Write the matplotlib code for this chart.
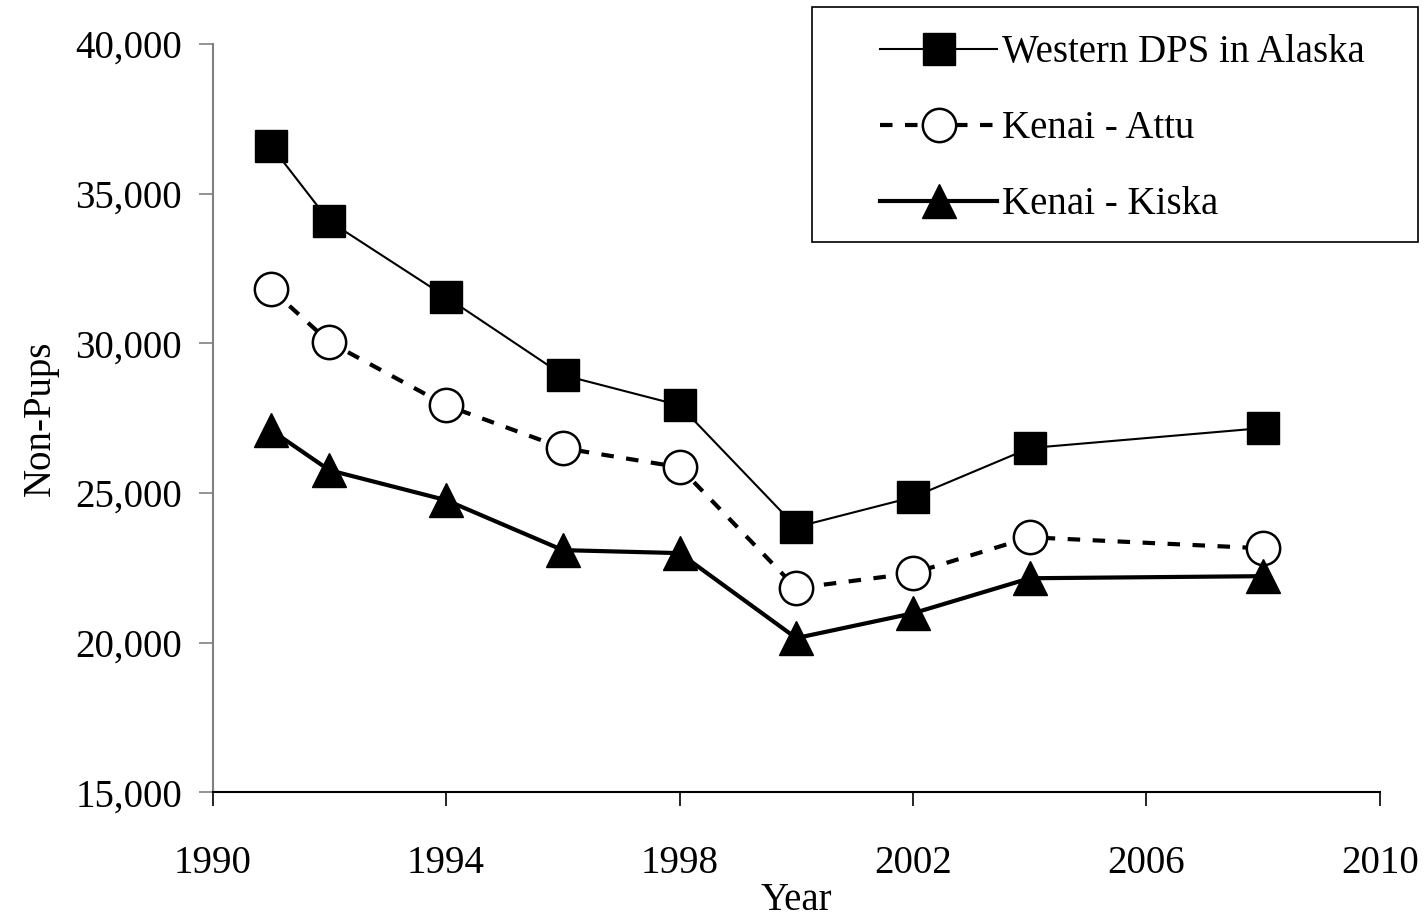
import matplotlib.pyplot as plt
from matplotlib.patches import Rectangle
from matplotlib.ticker import FuncFormatter

years = [1991, 1992, 1994, 1996, 1998, 2000, 2002, 2004, 2008]
western_dps = [36600, 34080, 31550, 28940, 27930, 23860, 24860, 26500, 27170]
kenai_attu = [31810, 30040, 27930, 26500, 25860, 21820, 22320, 23520, 23150]
kenai_kiska = [27100, 25760, 24760, 23090, 22990, 20150, 20980, 22150, 22220]

plt.rcParams['font.family'] = ['Liberation Serif', 'DejaVu Serif']
plt.rcParams['font.size'] = 28

fig = plt.figure(figsize=(14.27, 9.18), dpi=100)
ax = fig.add_axes([0.149, 0.137, 0.818, 0.815])

ax.plot(years, western_dps, color='black', lw=1.5, marker='s', ms=23,
        mfc='black', mec='black', label='Western DPS in Alaska')
ax.plot(years, kenai_attu, color='black', lw=3, ls=(0, (3, 3)), marker='o', ms=24,
        mfc='white', mec='black', mew=1.8, label='Kenai - Attu')
ax.plot(years, kenai_kiska, color='black', lw=3, marker='^', ms=24,
        mfc='black', mec='black', label='Kenai - Kiska')

ax.set_xlim(1990, 2010)
ax.set_ylim(15000, 40000)
ax.set_xticks(range(1990, 2011, 4))
ax.set_yticks(range(15000, 40001, 5000))
ax.yaxis.set_major_formatter(FuncFormatter(lambda v, p: f'{int(v):,}'))

ax.spines['top'].set_visible(False)
ax.spines['right'].set_visible(False)
ax.spines['left'].set_color('#808080')
ax.spines['left'].set_linewidth(1.5)
ax.spines['bottom'].set_linewidth(1.5)
ax.tick_params(axis='both', direction='out', length=10, width=1.2)
ax.tick_params(axis='x', pad=28)
ax.tick_params(axis='y', color='#808080', pad=12)

ax.set_xlabel('Year')
ax.xaxis.set_label_coords(0.5, -0.12)
ax.set_ylabel('Non-Pups', labelpad=12)

# legend box drawn separately so the padding can match the original
fig.patches.append(Rectangle((812 / 1427, 1 - 242 / 918), 606 / 1427, 235 / 918,
                             transform=fig.transFigure, fill=False,
                             edgecolor='black', lw=1.2))
ax.legend(loc='upper left', bbox_to_anchor=(861 / 1427, 1 - 15 / 918),
          bbox_transform=fig.transFigure, frameon=False, borderpad=0,
          handlelength=3.0, handletextpad=0.12, labelspacing=1.0, fontsize=28)

fig.savefig('out.png', dpi=100, facecolor='white')
